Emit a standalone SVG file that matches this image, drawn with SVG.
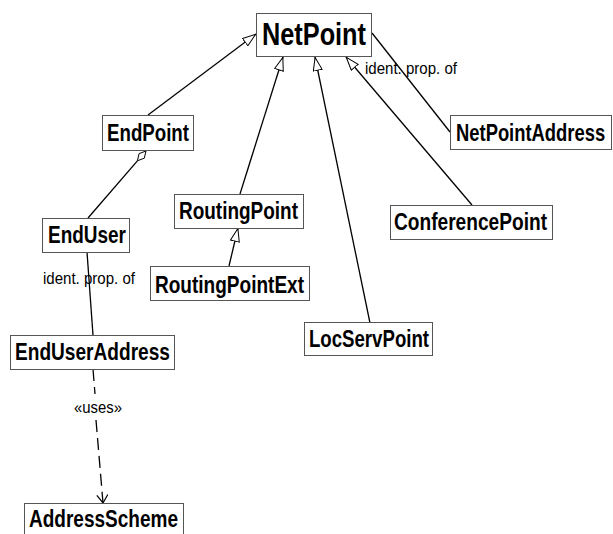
<svg xmlns="http://www.w3.org/2000/svg" width="613" height="534" viewBox="0 0 613 534">
<style>
.box{fill:#fff;stroke:#555;stroke-width:1}
.nt{font-family:"Liberation Sans",Arial,sans-serif;font-weight:bold;font-size:23px;fill:#000}
.big{font-size:32px}
.lbl{font-family:"Liberation Sans",Arial,sans-serif;font-size:17px;fill:#000}
.ln{fill:none;stroke:#000;stroke-width:1.3}
.dash{stroke-dasharray:12,6}
</style>
<defs>
<marker id="gen" viewBox="0 0 14 10" refX="14" refY="5" markerWidth="14" markerHeight="10" markerUnits="userSpaceOnUse" orient="auto">
<path d="M0.5,0.5 L13.5,5 L0.5,9.5 Z" fill="#fff" stroke="#000" stroke-width="1"/>
</marker>
<marker id="open" viewBox="0 0 10 12" refX="9" refY="6" markerWidth="10" markerHeight="12" markerUnits="userSpaceOnUse" orient="auto">
<path d="M1,0.5 L9,6 L1,11.5" fill="none" stroke="#000" stroke-width="1.2"/>
</marker>
</defs>
<g id="connectors">
<path class="ln" d="M148,115 L256,34" marker-end="url(#gen)"/>
<path class="ln" d="M240,194 L283,57" marker-end="url(#gen)"/>
<path class="ln" d="M370,323 L315,57" marker-end="url(#gen)"/>
<path class="ln" d="M472,205 L346,57" marker-end="url(#gen)"/>
<path class="ln" d="M372,33 L450,132"/>
<text class="lbl" x="365" y="74" textLength="92" lengthAdjust="spacingAndGlyphs">ident. prop. of</text>
<path class="ln" d="M229,266 L238,228" marker-end="url(#gen)"/>
<path class="ln" d="M137.4,160.8 L88,218"/>
<polygon points="146,151 144.3,158.2 137.4,160.8 139.1,153.6" fill="#fff" stroke="#000" stroke-width="1"/>
<path class="ln" d="M87,252 L93,335"/>
<text class="lbl" x="43" y="284" textLength="92" lengthAdjust="spacingAndGlyphs">ident. prop. of</text>
<path class="ln dash" d="M93,369 L95,394"/>
<path class="ln dash" d="M96,420 L103,503" marker-end="url(#open)"/>
<text class="lbl" x="74" y="413" textLength="48" lengthAdjust="spacingAndGlyphs">«uses»</text>
</g>
<g id="NetPoint">
<rect class="box" x="256.5" y="13.5" width="115" height="43"/>
<text class="nt big" x="262" y="45" textLength="104" lengthAdjust="spacingAndGlyphs">NetPoint</text>
</g>
<g id="EndPoint">
<rect class="box" x="102.5" y="115.5" width="91" height="35"/>
<text class="nt" x="107" y="141" textLength="82" lengthAdjust="spacingAndGlyphs">EndPoint</text>
</g>
<g id="NetPointAddress">
<rect class="box" x="450.5" y="115.5" width="161" height="34"/>
<text class="nt" transform="translate(456,141) scale(0.8,1)" x="0" y="0">NetPointAddress</text>
</g>
<g id="RoutingPoint">
<rect class="box" x="174.5" y="194.5" width="129" height="34"/>
<text class="nt" x="179" y="219" textLength="119" lengthAdjust="spacingAndGlyphs">RoutingPoint</text>
</g>
<g id="ConferencePoint">
<rect class="box" x="390.5" y="205.5" width="162" height="34"/>
<text class="nt" x="394" y="230" textLength="153" lengthAdjust="spacingAndGlyphs">ConferencePoint</text>
</g>
<g id="EndUser">
<rect class="box" x="42.5" y="218.5" width="87" height="34"/>
<text class="nt" x="48" y="243" textLength="78" lengthAdjust="spacingAndGlyphs">EndUser</text>
</g>
<g id="RoutingPointExt">
<rect class="box" x="150.5" y="266.5" width="159" height="34"/>
<text class="nt" x="155" y="293" textLength="149" lengthAdjust="spacingAndGlyphs">RoutingPointExt</text>
</g>
<g id="LocServPoint">
<rect class="box" x="304.5" y="322.5" width="128" height="33"/>
<text class="nt" x="309" y="347" textLength="120" lengthAdjust="spacingAndGlyphs">LocServPoint</text>
</g>
<g id="EndUserAddress">
<rect class="box" x="10.5" y="335.5" width="164" height="34"/>
<text class="nt" x="15" y="360" textLength="155" lengthAdjust="spacingAndGlyphs">EndUserAddress</text>
</g>
<g id="AddressScheme">
<rect class="box" x="24.5" y="503.5" width="159" height="36"/>
<text class="nt" x="29" y="527" textLength="149" lengthAdjust="spacingAndGlyphs">AddressScheme</text>
</g>
</svg>
